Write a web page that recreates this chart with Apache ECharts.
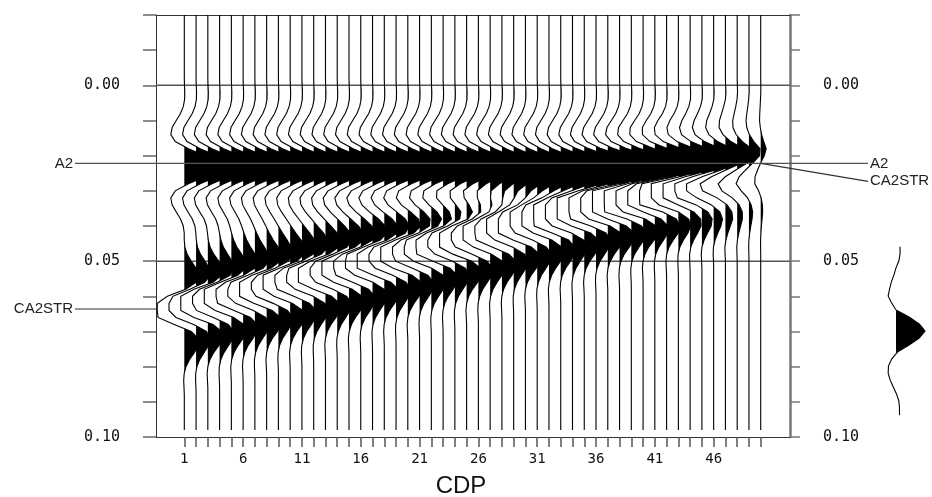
<!DOCTYPE html>
<html>
<head>
<meta charset="utf-8">
<script src="https://cdn.jsdelivr.net/npm/echarts@6/dist/echarts.min.js"></script>
<style>
html,body{margin:0;padding:0;background:#fff;}
#c{width:932px;height:497px;}
</style>
</head>
<body>
<div id="c"></div>
<script>
// ---------------- data ----------------
const cdps = [1,2,3,4,5,6,7,8,9,10,11,12,13,14,15,16,17,18,19,20,21,22,23,24,25,
              26,27,28,29,30,31,32,33,34,35,36,37,38,39,40,41,42,43,44,45,46,47,48,49,50];
const cdpLabelValues = [1,6,11,16,21,26,31,36,41,46];
const timeLabelValues = [0, 0.05, 0.10];
const gridLineTimes = [0, 0.05];

// wavelet used for the synthetic traces (ms offsets, relative amplitude)
const waveletMs = [-24,-22,-20,-18,-16,-14,-12,-10,-8,-6,-4,-2,0,2,4,6,8,10,12,14,16,18,20,22,24];
const wavelet   = [0.00,0.01,0.02,0.00,-0.06,-0.17,-0.32,-0.42,-0.40,-0.15,0.40,0.85,1.00,
                   0.85,0.40,-0.15,-0.40,-0.42,-0.32,-0.17,-0.06,0.00,0.02,0.01,0.00];
// wavelet as drawn in the side panel
const panelWavelet = [0.14,0.14,0.10,0.00,-0.07,-0.16,-0.22,-0.27,-0.15,0.00,0.45,0.80,1.00,
                      0.80,0.45,0.05,-0.15,-0.26,-0.27,-0.20,-0.09,0.02,0.10,0.12,0.12];

// horizons (seconds)
const a2EventTime = 0.023;
const a2PickTime = 0.0222;
const ca2strTimes = [0.0636,0.0628,0.0620,0.0612,0.0603,0.0595,0.0587,0.0579,0.0571,0.0563,
                     0.0554,0.0546,0.0538,0.0530,0.0522,0.0514,0.0505,0.0497,0.0489,0.0481,
                     0.0473,0.0465,0.0456,0.0448,0.0440,0.0432,0.0424,0.0416,0.0407,0.0399,
                     0.0391,0.0383,0.0375,0.0367,0.0358,0.0350,0.0342,0.0334,0.0326,0.0318,
                     0.0309,0.0301,0.0293,0.0285,0.0277,0.0269,0.0260,0.0252,0.0244,0.0236];
const ca2strRightLabelTime = 0.0273;
const ampA2 = 1.0;
const ampCA2STR = -1.05;
const traceGain = 2.8;       // trace deflection per unit amplitude, in CDP units
const traceClip = 2.3;       // maximum deflection, in CDP units
const traceStart = -0.020, traceEnd = 0.098, sampleDt = 0.002;

// ---------------- helpers ----------------
function wav(arr, tau) {
  const ms = tau * 1000;
  const step = waveletMs[1] - waveletMs[0];
  const idx = (ms - waveletMs[0]) / step;
  if (idx < 0 || idx > arr.length - 1) return 0;
  const k = Math.floor(idx), f = idx - k;
  if (k + 1 >= arr.length) return arr[k];
  return arr[k] * (1 - f) + arr[k + 1] * f;
}
const sampleTimes = [];
for (let k = 0; traceStart + k * sampleDt <= traceEnd + 1e-9; k++) sampleTimes.push(traceStart + k * sampleDt);

// returns [time, deflection in CDP units]
function traceSamples(i) {
  return sampleTimes.map(t => {
    const v = ampA2 * wav(wavelet, t - a2EventTime) + ampCA2STR * wav(wavelet, t - ca2strTimes[i]);
    return [t, Math.max(-traceClip, Math.min(traceClip, traceGain * v))];
  });
}
function fillPoints(base, samples, api) {
  const pts = [api.coord([base, samples[0][0]])];
  for (let k = 0; k < samples.length; k++) {
    const [t, v] = samples[k];
    if (k > 0) {
      const [tp, vp] = samples[k - 1];
      if ((vp > 0) !== (v > 0)) {
        const tc = tp + (t - tp) * (vp / (vp - v));
        pts.push(api.coord([base, tc]));
      }
    }
    pts.push(api.coord([base + Math.max(0, v), t]));
  }
  pts.push(api.coord([base, samples[samples.length - 1][0]]));
  return pts;
}

const chart = echarts.init(document.getElementById('c'));
const monoFont = 'DejaVu Sans Mono';
const xMin = -1.406, xMax = 52.49;
const tickLabelFmt = v => timeLabelValues.some(s => Math.abs(s - v) < 1e-6) ? v.toFixed(2) : '';

const option = {
  animation: false,
  backgroundColor: '#fff',
  grid: [
    { left: 156, right: 142, top: 15, bottom: 60 },
    { left: 866, width: 60, top: 245, height: 172 }
  ],
  xAxis: [
    { gridIndex: 0, type: 'value', position: 'bottom', min: xMin, max: xMax,
      axisLine: { show: true, onZero: false, lineStyle: { color: '#333', width: 1 } },
      axisTick: { show: true, customValues: cdps, length: 10, lineStyle: { color: '#555', width: 1.5 } },
      axisLabel: { show: true, customValues: cdpLabelValues, margin: 15, fontFamily: monoFont, fontSize: 14, color: '#111',
                   formatter: v => String(Math.round(v)) },
      splitLine: { show: false } },
    { gridIndex: 0, type: 'value', position: 'top', min: xMin, max: xMax,
      axisLine: { show: true, onZero: false, lineStyle: { color: '#333', width: 1 } },
      axisTick: { show: false }, axisLabel: { show: false }, splitLine: { show: false } },
    { gridIndex: 1, type: 'value', min: -1.034, max: 1.034, show: false }
  ],
  yAxis: [
    { gridIndex: 0, type: 'value', inverse: true, position: 'left', min: -0.02, max: 0.10, interval: 0.01,
      axisLine: { show: true, onZero: false, lineStyle: { color: '#333', width: 1 } },
      axisTick: { show: true, length: 13, lineStyle: { color: '#666', width: 1.5 } },
      axisLabel: { margin: 36, fontFamily: monoFont, fontSize: 15, color: '#111', formatter: tickLabelFmt },
      splitLine: { show: false } },
    { gridIndex: 0, type: 'value', inverse: true, position: 'right', min: -0.02, max: 0.10, interval: 0.01,
      axisLine: { show: true, onZero: false, lineStyle: { color: '#777', width: 2.5 } },
      axisTick: { show: true, length: 10, lineStyle: { color: '#777', width: 1.5 } },
      axisLabel: { margin: 33, fontFamily: monoFont, fontSize: 15, color: '#111', formatter: tickLabelFmt },
      splitLine: { show: false } },
    { gridIndex: 1, type: 'value', inverse: true, min: -0.0245, max: 0.0245, show: false }
  ],
  series: [
    { // horizontal time lines
      type: 'custom', xAxisIndex: 0, yAxisIndex: 0, silent: true,
      data: gridLineTimes.map(t => [0, t]),
      renderItem: (params, api) => {
        const t = api.value(1);
        const p1 = api.coord([xMin, t]), p2 = api.coord([xMax, t]);
        return { type: 'line', shape: { x1: p1[0], y1: p1[1], x2: p2[0], y2: p2[1] },
                 style: { stroke: '#555', lineWidth: 1.5 } };
      }
    },
    { // positive-lobe fills
      type: 'custom', xAxisIndex: 0, yAxisIndex: 0, silent: true,
      data: cdps.map((c, i) => [c, i]),
      renderItem: (params, api) => {
        const base = api.value(0), i = api.value(1);
        return { type: 'polygon', shape: { points: fillPoints(base, traceSamples(i), api) },
                 style: { fill: '#000', stroke: null } };
      }
    },
    { // wiggle lines
      type: 'custom', xAxisIndex: 0, yAxisIndex: 0, silent: true,
      data: cdps.map((c, i) => [c, i]),
      renderItem: (params, api) => {
        const base = api.value(0), i = api.value(1);
        const pts = traceSamples(i).map(([t, v]) => api.coord([base + v, t]));
        pts.unshift(api.coord([base, traceStart]));
        return { type: 'polyline', shape: { points: pts },
                 style: { stroke: '#000', lineWidth: 1.1, fill: null } };
      }
    },
    { // wavelet panel
      type: 'custom', xAxisIndex: 2, yAxisIndex: 2, silent: true,
      data: [[0, 0]],
      renderItem: (params, api) => {
        const samples = waveletMs.map((ms, k) => [ms / 1000, panelWavelet[k]]);
        const line = samples.map(([t, v]) => api.coord([v, t]));
        let pk = 0; samples.forEach((s, k) => { if (s[1] > samples[pk][1]) pk = k; });
        let a = pk, b = pk;
        while (a > 0 && samples[a - 1][1] > 0) a--;
        while (b < samples.length - 1 && samples[b + 1][1] > 0) b++;
        const lobe = samples.slice(Math.max(0, a - 1), Math.min(samples.length, b + 2));
        const fill = fillPoints(0, lobe, api);
        return { type: 'group', children: [
          { type: 'polygon', shape: { points: fill }, style: { fill: '#000' } },
          { type: 'polyline', shape: { points: line }, style: { stroke: '#000', lineWidth: 1.1, fill: null } }
        ] };
      }
    }
  ]
};
chart.setOption(option);

// annotations positioned through the axes
const px = (x, t) => chart.convertToPixel({ xAxisIndex: 0, yAxisIndex: 0 }, [x, t]);
const yA2 = px(1, a2PickTime)[1];
const yCAL = px(1, ca2strTimes[0])[1];
const xAxisLeft = px(xMin, 0)[0];
const p50 = px(cdps[cdps.length - 1], a2PickTime);
const yCAR = px(1, ca2strRightLabelTime)[1];
const labelFont = '15px "Liberation Sans", Arial, sans-serif';
const annColor = '#222';
chart.setOption({
  graphic: [
    { type: 'line', z: 100, silent: true, shape: { x1: 75, y1: yA2, x2: 868, y2: yA2 }, style: { stroke: '#555', lineWidth: 1.2 } },
    { type: 'line', z: 100, silent: true, shape: { x1: 75, y1: yCAL, x2: xAxisLeft + 1, y2: yCAL }, style: { stroke: '#333', lineWidth: 1.2 } },
    { type: 'line', z: 100, silent: true, shape: { x1: p50[0], y1: p50[1], x2: 868, y2: yCAR }, style: { stroke: '#333', lineWidth: 1.2 } },
    { type: 'text', z: 100, silent: true, style: { text: 'A2', x: 73, y: yA2, textAlign: 'right', textVerticalAlign: 'middle', font: labelFont, fill: annColor } },
    { type: 'text', z: 100, silent: true, style: { text: 'CA2STR', x: 73, y: yCAL, textAlign: 'right', textVerticalAlign: 'middle', font: labelFont, fill: annColor } },
    { type: 'text', z: 100, silent: true, style: { text: 'A2', x: 870, y: yA2, textAlign: 'left', textVerticalAlign: 'middle', font: labelFont, fill: annColor } },
    { type: 'text', z: 100, silent: true, style: { text: 'CA2STR', x: 870, y: yCAR, textAlign: 'left', textVerticalAlign: 'middle', font: labelFont, fill: annColor } },
    { type: 'text', z: 100, silent: true, style: { text: 'CDP', x: 461, y: 486, textAlign: 'center', textVerticalAlign: 'middle', font: '24px "Liberation Sans", Arial, sans-serif', fill: '#111' } }
  ]
});
</script>
</body>
</html>
